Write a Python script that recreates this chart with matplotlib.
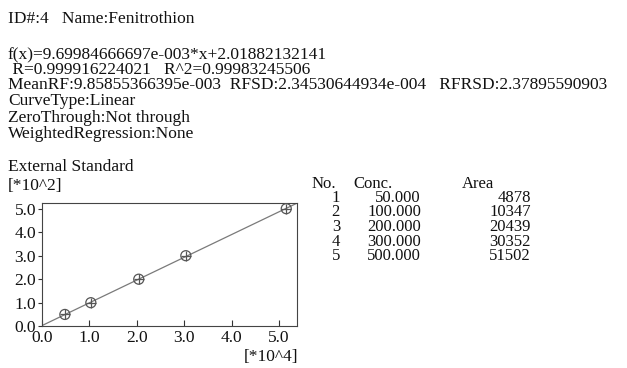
import numpy as np
import matplotlib
matplotlib.use("Agg")
import matplotlib.pyplot as plt

plt.rcParams["font.family"] = ["Liberation Serif", "DejaVu Serif"]

# calibration points
point_no = [1, 2, 3, 4, 5]
conc = [50.000, 100.000, 200.000, 300.000, 500.000]
area = [4878, 10347, 20439, 30352, 51502]

# regression result as printed in the report
slope = 9.69984666697e-003
intercept = 2.01882132141

header_lines = [
    "ID#:4   Name:Fenitrothion",
    "f(x)=9.69984666697e-003*x+2.01882132141",
    " R=0.999916224021   R^2=0.99983245506",
    "MeanRF:9.85855366395e-003  RFSD:2.34530644934e-004   RFRSD:2.37895590903",
    "CurveType:Linear",
    "ZeroThrough:Not through",
    "WeightedRegression:None",
]
header_y = [19, 55, 70, 85, 101, 118, 134]

W, H = 627, 368
FS = 12.5
TS = 12
fig = plt.figure(figsize=(W / 100, H / 100), dpi=100)
fig.patch.set_facecolor("white")


def px(x, y):
    return x / W, 1 - y / H


def put(x, y, s, ha="left", size=FS):
    fig.text(*px(x, y), s, fontsize=size, va="center", ha=ha, color="#111111")


for line, y in zip(header_lines, header_y):
    put(8, y, line)

put(8, 167, "External Standard")
put(8, 186, "[*10^2]")
put(298, 357, "[*10^4]", ha="right")

# plot area
left, top, right, bottom = 41.7, 202.7, 296.7, 326.2
ax = fig.add_axes([left / W, 1 - bottom / H, (right - left) / W, (bottom - top) / H])

x_scaled = np.array(area) / 1e4
y_scaled = np.array(conc) / 1e2

xl = np.array([0, 6.0])
yl = (slope * xl * 1e4 + intercept) / 1e2
ax.plot(xl, yl, color="#7a7a7a", lw=0.9)
ax.scatter(x_scaled, y_scaled, s=52, facecolors="none", edgecolors="#555555", linewidths=0.9, zorder=3)
ax.scatter(x_scaled, y_scaled, s=52, marker="+", color="#555555", linewidths=0.9, zorder=3)

ax.set_xlim(0, 5.37)
ax.set_ylim(0, 5.255)
ticks = [0, 1, 2, 3, 4, 5]
ax.set_xticks(ticks)
ax.set_yticks(ticks)
ax.set_xticklabels([f"{t:.1f}" for t in ticks], fontsize=FS)
ax.set_yticklabels([f"{t:.1f}" for t in ticks], fontsize=FS)
ax.tick_params(axis="x", direction="in", length=4, width=0.8, pad=2.5, colors="#333333", labelcolor="#111111")
ax.tick_params(axis="y", direction="out", length=3, width=0.8, pad=1, colors="#333333", labelcolor="#111111")
for s in ax.spines.values():
    s.set_color("#444444")
    s.set_linewidth(0.8)

# data table
put(312, 184, "No.", size=TS)
put(353, 184, "Conc.", size=TS)
put(462, 184, "Area", size=TS)
for i, (n, c, a) in enumerate(zip(point_no, conc, area)):
    y = 198 + i * 14.5
    put(340, y, str(n), ha="right", size=TS)
    put(421, y, f"{c:.3f}", ha="right", size=TS)
    put(531, y, str(a), ha="right", size=TS)

fig.savefig("out.png", dpi=100)
